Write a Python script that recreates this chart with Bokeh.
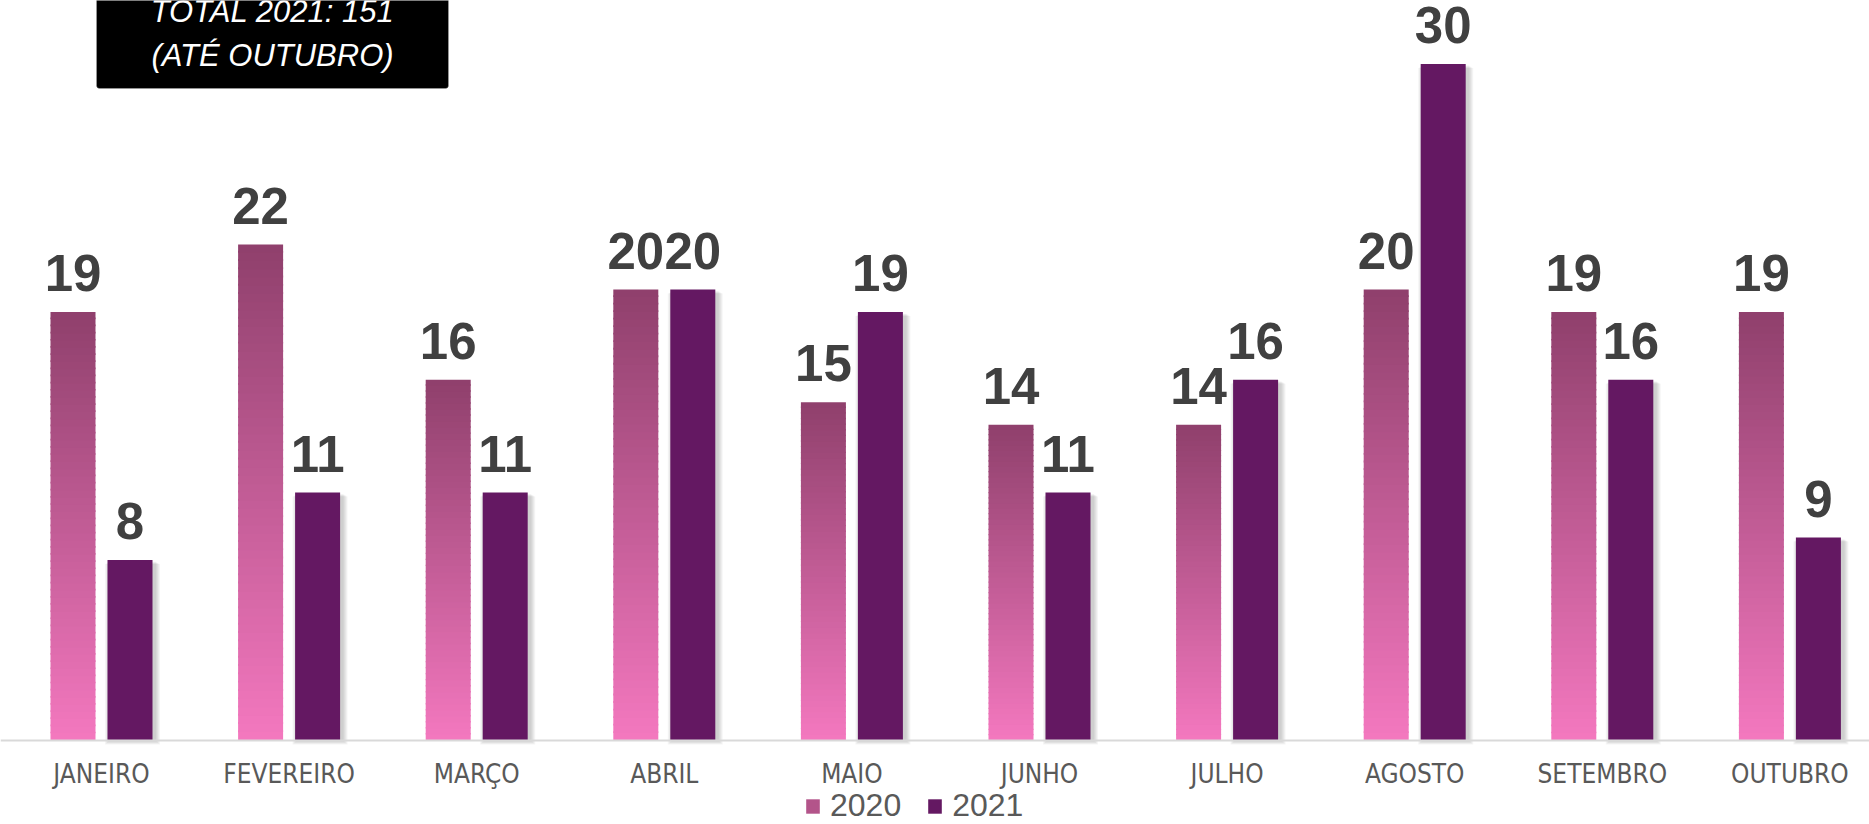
from bokeh.plotting import figure
from bokeh.models import FixedTicker, BoxAnnotation, Label, Legend, LegendItem, ColumnDataSource
from bokeh.core.properties import value
from bokeh.embed import file_html
from bokeh.resources import INLINE

# ---------------- data ----------------
months = ["JANEIRO", "FEVEREIRO", "MARÇO", "ABRIL", "MAIO",
          "JUNHO", "JULHO", "AGOSTO", "SETEMBRO", "OUTUBRO"]
series_2020 = [19, 22, 16, 20, 15, 14, 14, 20, 19, 19]
series_2021 = [8, 11, 11, 20, 19, 11, 16, 30, 16, 9]
legend_labels = ["2020", "2021"]
box_lines = ["TOTAL 2021: 151", "(ATÉ OUTUBRO)"]

# ---------------- layout constants ----------------
W, H = 1869, 824
AXIS_PX = 740           # canvas y of the value axis (value 0)
CAT_PX = 187.6          # pixels per month
FIRST_PX = 101.0        # canvas x of first month centre
UNIT_PX = 22.55         # pixels per unit of value
BAR_PX = 45.0
OFF_PX = 28.5
BASE_FIX = 0.37         # anchor-to-baseline correction (fraction of font size)

def sx(px):  # canvas x pixel -> data x
    return (px - FIRST_PX) / CAT_PX

def sy(px):  # canvas y pixel (from top) -> data y
    return (AXIS_PX - px) / UNIT_PX

x_start, x_end = sx(0), sx(W)
y_start, y_end = sy(H), sy(0)
bw = BAR_PX / CAT_PX
off = OFF_PX / CAT_PX

TOP_C = (143, 64, 108)
BOT_C = (244, 120, 191)
C2021 = "#641862"

def lerp(a, b, t):
    return "#%02x%02x%02x" % tuple(int(round(a[i] + (b[i] - a[i]) * t)) for i in range(3))

p = figure(width=W, height=H, x_range=(x_start, x_end), y_range=(y_start, y_end),
           output_backend="svg", toolbar_location=None, y_axis_location=None,
           min_border_left=0, min_border_right=0, min_border_top=0,
           min_border_bottom=0)
p.outline_line_color = None
p.grid.visible = False
p.background_fill_color = "white"
p.border_fill_color = "white"

xs = list(range(len(months)))

# ---- gradient bars for 2020 (stacked thin slices, gradient per bar) ----
N = 60
gx, gb, gt, gc = [], [], [], []
for i, v in enumerate(series_2020):
    for k in range(N):
        gx.append(i - off)
        gb.append(v * k / N)
        gt.append(v * (k + 1) / N + (0 if k == N - 1 else v * 0.004))
        gc.append(lerp(BOT_C, TOP_C, (k + 0.5) / N))
r2020 = p.vbar(x=gx, bottom=gb, top=gt, width=bw, fill_color=gc, line_color=None)

# ---- soft shadow for 2021 bars ----
for k in range(1, 6):
    p.vbar(x=[i + off + (2.5 / CAT_PX) for i in xs],
           top=[v - (1 + k * 0.6) / UNIT_PX for v in series_2021],
           bottom=-(k * 0.8) / UNIT_PX, width=(BAR_PX + 2 * k) / CAT_PX,
           fill_color="black", fill_alpha=0.04, line_color=None)

r2021 = p.vbar(x=[i + off for i in xs], top=series_2021, bottom=0, width=bw,
               fill_color=C2021, line_color=None)

# ---- value labels (baseline 20 px above each bar) ----
VFS = 51
lab_src = ColumnDataSource(dict(
    x=[i - off for i in xs] + [i + off for i in xs],
    y=series_2020 + series_2021,
    t=[str(v) for v in series_2020 + series_2021]))
p.text(x="x", y="y", text="t", source=lab_src, text_align="center",
       text_baseline="alphabetic", y_offset=-(20 + BASE_FIX * VFS),
       text_font=value("Liberation Sans"), text_font_style="bold",
       text_font_size=f"{VFS}px", text_color="#404040")

# ---- x axis, fixed at value 0 ----
ax = p.xaxis[0]
ax.fixed_location = 0
ax.ticker = FixedTicker(ticks=xs)
ax.major_label_overrides = {i: m for i, m in enumerate(months)}
ax.major_tick_line_color = None
ax.minor_tick_line_color = None
ax.major_tick_out = 0
ax.major_tick_in = 0
ax.major_label_standoff = 18
ax.axis_line_color = "#d9d9d9"
ax.axis_line_width = 2
ax.major_label_text_font = "'Liberation Sans Narrow', 'Arial Narrow', 'DejaVu Sans Condensed', sans-serif"
ax.major_label_text_font_size = "26px"
ax.major_label_text_color = "#595959"

# ---- title box ----
BFS = 31
p.add_layout(BoxAnnotation(left=sx(96), right=sx(448), bottom=sy(88), top=y_end + 5,
                           fill_color="black", fill_alpha=1.0,
                           line_color="#c8c8c8", line_width=1, border_radius=3))
for txt, base in zip(box_lines, [22, 66]):
    p.add_layout(Label(x=sx(272), y=sy(base - BASE_FIX * BFS), text=txt, text_align="center",
                       text_baseline="alphabetic", text_color="white",
                       text_font="Liberation Sans", text_font_style="italic",
                       text_font_size=f"{BFS}px"))

# ---- legend ----
legend = Legend(items=[LegendItem(label=legend_labels[0], renderers=[r2020], index=N // 2 + 8),
                       LegendItem(label=legend_labels[1], renderers=[r2021])],
                orientation="horizontal", location=(804, 0),
                border_line_color=None, background_fill_alpha=0,
                padding=0, margin=0, spacing=25,
                glyph_width=17, glyph_height=18, label_standoff=9,
                label_height=22, label_text_font_size="32px",
                label_text_font="Liberation Sans", label_text_color="#595959",
                label_text_baseline="middle")
p.add_layout(legend)

open("out.html", "w").write(file_html(p, INLINE))
